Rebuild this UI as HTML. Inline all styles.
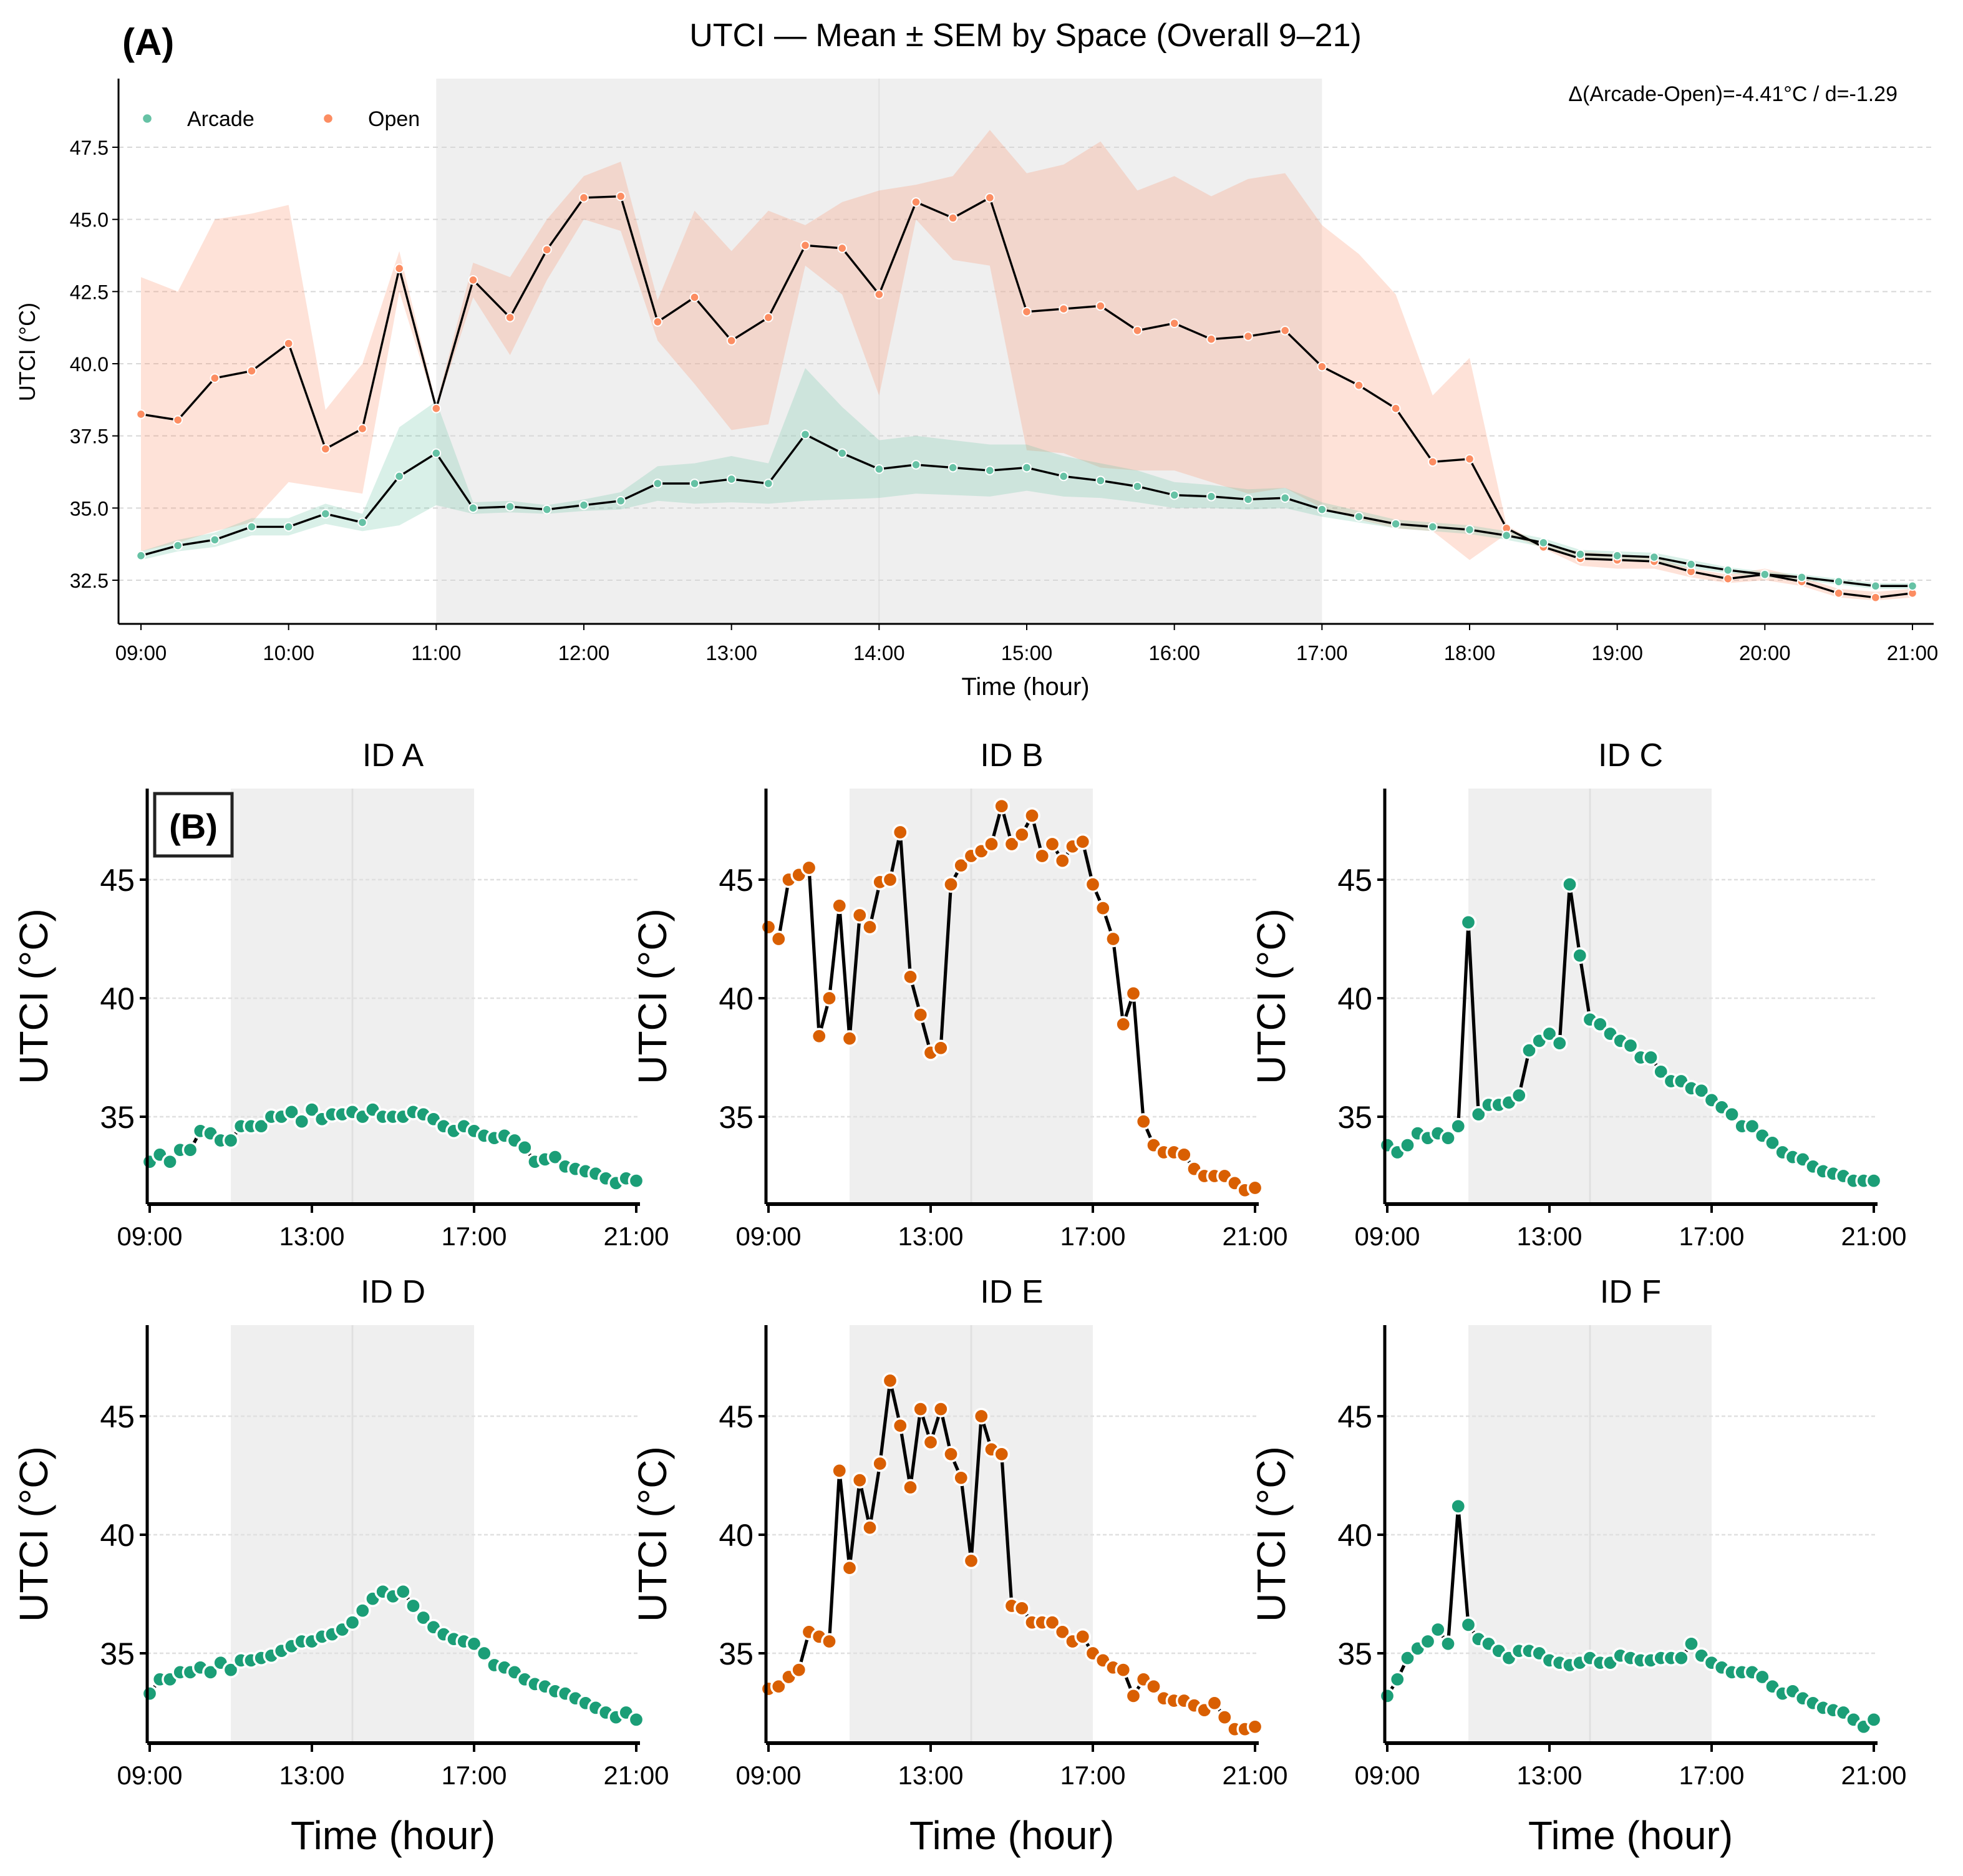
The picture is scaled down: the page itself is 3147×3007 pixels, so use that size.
<!DOCTYPE html>
<html><head><meta charset="utf-8"><style>
html,body{margin:0;padding:0;background:#fff}
svg{display:block}
text{font-family:"Liberation Sans","Noto Sans CJK SC",sans-serif}
</style></head><body>
<svg id="fig" xmlns="http://www.w3.org/2000/svg" width="3147" height="3007" viewBox="0 0 1573.5 1503.5">
<rect width="1573.5" height="1503.5" fill="#fff"/>
</svg>
<script>
const hours = [];
for (let i = 0; i < 49; i++) hours.push(9 + i * 0.25);
const openMean = [38.25,38.05,39.5,39.75,40.7,37.05,37.75,43.3,38.45,42.9,41.6,43.95,45.75,45.8,41.45,42.3,40.8,41.6,44.1,44.0,42.4,45.6,45.05,45.75,41.8,41.9,42.0,41.15,41.4,40.85,40.95,41.15,39.9,39.25,38.45,36.6,36.7,34.3,33.65,33.25,33.2,33.15,32.8,32.55,32.7,32.45,32.05,31.9,32.05];
const openUpper = [43.0,42.5,45.0,45.2,45.5,38.4,40.0,43.9,38.6,43.5,43.0,45.0,46.5,47.0,42.2,45.3,43.9,45.3,44.8,45.6,46.0,46.2,46.5,48.1,46.6,46.9,47.7,46.0,46.5,45.8,46.4,46.6,44.8,43.8,42.4,38.9,40.2,34.4,33.7,33.5,33.4,33.3,32.9,32.7,32.9,32.6,32.2,32.1,32.2];
const openLower = [33.5,33.8,34.2,34.5,35.9,35.7,35.5,42.5,38.4,42.3,40.3,42.9,45.0,44.6,40.8,39.3,37.7,37.9,43.4,42.4,38.9,45.0,43.6,43.4,37.0,36.9,36.4,36.3,36.3,35.9,35.5,35.7,35.0,34.6,34.3,34.2,33.2,34.1,33.6,33.0,32.9,32.9,32.6,32.4,32.5,32.3,31.9,31.8,31.9];
const arcMean = [33.35,33.7,33.9,34.35,34.35,34.8,34.5,36.1,36.9,35.0,35.05,34.95,35.1,35.25,35.85,35.85,36.0,35.85,37.55,36.9,36.35,36.5,36.4,36.3,36.4,36.1,35.95,35.75,35.45,35.4,35.3,35.35,34.95,34.7,34.45,34.35,34.25,34.05,33.8,33.4,33.35,33.3,33.05,32.85,32.7,32.6,32.45,32.3,32.3];
const arcSem = [0.15,0.2,0.25,0.3,0.3,0.35,0.3,1.7,1.8,0.2,0.2,0.15,0.2,0.3,0.6,0.7,0.8,0.7,2.3,1.6,1.0,1.0,0.95,0.9,0.8,0.7,0.6,0.55,0.45,0.4,0.35,0.35,0.25,0.2,0.15,0.15,0.15,0.15,0.15,0.15,0.15,0.15,0.15,0.1,0.1,0.1,0.1,0.1,0.1];
const topYTicks = [32.5,35.0,37.5,40.0,42.5,45.0,47.5];
const topXTicks = [9,10,11,12,13,14,15,16,17,18,19,20,21];
const idNames = ["ID A","ID B","ID C","ID D","ID E","ID F"];
const idA = [33.1,33.4,33.1,33.6,33.6,34.4,34.3,34.0,34.0,34.6,34.6,34.6,35.0,35.0,35.2,34.8,35.3,34.9,35.1,35.1,35.2,35.0,35.3,35.0,35.0,35.0,35.2,35.1,34.9,34.6,34.4,34.6,34.4,34.2,34.1,34.2,34.0,33.7,33.1,33.2,33.3,32.9,32.8,32.7,32.6,32.4,32.2,32.4,32.3];
const idB = [43.0,42.5,45.0,45.2,45.5,38.4,40.0,43.9,38.3,43.5,43.0,44.9,45.0,47.0,40.9,39.3,37.7,37.9,44.8,45.6,46.0,46.2,46.5,48.1,46.5,46.9,47.7,46.0,46.5,45.8,46.4,46.6,44.8,43.8,42.5,38.9,40.2,34.8,33.8,33.5,33.5,33.4,32.8,32.5,32.5,32.5,32.2,31.9,32.0];
const idC = [33.8,33.5,33.8,34.3,34.1,34.3,34.1,34.6,43.2,35.1,35.5,35.5,35.6,35.9,37.8,38.2,38.5,38.1,44.8,41.8,39.1,38.9,38.5,38.2,38.0,37.5,37.5,36.9,36.5,36.5,36.2,36.1,35.7,35.4,35.1,34.6,34.6,34.2,33.9,33.5,33.3,33.2,32.9,32.7,32.6,32.5,32.3,32.3,32.3];
const idD = [33.3,33.9,33.9,34.2,34.2,34.4,34.2,34.6,34.3,34.7,34.7,34.8,34.9,35.1,35.3,35.5,35.5,35.7,35.8,36.0,36.3,36.8,37.3,37.6,37.4,37.6,37.0,36.5,36.1,35.8,35.6,35.5,35.4,35.0,34.5,34.4,34.2,33.9,33.7,33.6,33.4,33.3,33.1,32.9,32.7,32.5,32.3,32.5,32.2];
const idE = [33.5,33.6,34.0,34.3,35.9,35.7,35.5,42.7,38.6,42.3,40.3,43.0,46.5,44.6,42.0,45.3,43.9,45.3,43.4,42.4,38.9,45.0,43.6,43.4,37.0,36.9,36.3,36.3,36.3,35.9,35.5,35.7,35.0,34.7,34.4,34.3,33.2,33.9,33.6,33.1,33.0,33.0,32.8,32.6,32.9,32.3,31.8,31.8,31.9];
const idF = [33.2,33.9,34.8,35.2,35.5,36.0,35.4,41.2,36.2,35.6,35.4,35.1,34.8,35.1,35.1,35.0,34.7,34.6,34.5,34.6,34.8,34.6,34.6,34.9,34.8,34.7,34.7,34.8,34.8,34.8,35.4,34.9,34.6,34.4,34.2,34.2,34.2,34.0,33.6,33.3,33.4,33.1,32.9,32.7,32.6,32.5,32.2,31.9,32.2];
const idSpace = ["Arcade","Open","Arcade","Arcade","Open","Arcade"];
const subYTicks = [35,40,45];
const subXTicks = [9,13,17,21];

const NS = "http://www.w3.org/2000/svg";
const svg = document.getElementById("fig");
function mk(tag, attrs, parent, txt) {
  const e = document.createElementNS(NS, tag);
  for (const k in attrs) e.setAttribute(k, attrs[k]);
  if (txt !== undefined) e.textContent = txt;
  (parent || svg).appendChild(e);
  return e;
}
function hh(h){return String(h).padStart(2,"0")+":00";}

// ---------- Panel A ----------
const A = {l:95, r:1550, t:63, b:500};
const ax = h => 113 + (h - 9) * (1533 - 113) / 12;
const ay = v => 465 - (v - 32.5) * (465 - 118) / 15;
const gA = mk("g", {});


let t = mk("text", {x:98, y:44, "font-size":30, "font-weight":"bold"}, gA, "(A)");
 
t = mk("text", {x:822, y:37, "font-size":26, "text-anchor":"middle"}, gA, "UTCI — Mean ± SEM by Space (Overall 9–21)");
 
let r = mk("rect", {x:ax(11), y:A.t, width:ax(17)-ax(11), height:A.b-A.t, fill:"#efefef"}, gA);
 
mk("line", {x1:ax(14), x2:ax(14), y1:A.t, y2:A.b, stroke:"#e2e2e2", "stroke-width":1}, gA);
topYTicks.forEach(v => {
  const l = mk("line", {x1:A.l, x2:A.r, y1:ay(v), y2:ay(v), stroke:"#d8d8d8", "stroke-width":1, "stroke-dasharray":"4,3"}, gA);
   
  mk("line", {x1:A.l-5, x2:A.l, y1:ay(v), y2:ay(v), stroke:"#000", "stroke-width":1}, gA);
  const tt = mk("text", {x:A.l-8, y:ay(v)+6, "font-size":16, "text-anchor":"end"}, gA, v.toFixed(1));
   
});
topXTicks.forEach(h => {
  mk("line", {x1:ax(h), x2:ax(h), y1:A.b, y2:A.b+5, stroke:"#000", "stroke-width":1}, gA);
  const tt = mk("text", {x:ax(h), y:529, "font-size":16.5, "text-anchor":"middle"}, gA, hh(h));
   
});
function band(up, lo, fill, name) {
  let d = "M" + hours.map((h,i)=>ax(h)+","+ay(up[i])).join("L");
  d += "L" + hours.map((h,i)=>[ax(h),ay(lo[i])]).reverse().map(p=>p.join(",")).join("L") + "Z";
  const p = mk("path", {d:d, fill:fill, "fill-opacity":0.25}, gA);
   
}
band(openUpper, openLower, "#fc8d62", "open-sem-band");
band(arcMean.map((m,i)=>m+arcSem[i]), arcMean.map((m,i)=>m-arcSem[i]), "#66c2a5", "arcade-sem-band");
function series(vals, color, name, X, Y, rad, sw, g) {
  const pl = mk("polyline", {points:hours.map((h,i)=>X(h)+","+Y(vals[i])).join(" "), fill:"none", stroke:"#000", "stroke-width":sw, "stroke-linejoin":"round"}, g);
   
  hours.forEach((h,i) => {
    const c = mk("circle", {cx:X(h), cy:Y(vals[i]), r:rad, fill:color, stroke:"#fff", "stroke-width":rad*0.3}, g);
     
  });
}
series(openMean, "#fc8d62", "open-mean", ax, ay, 3.4, 1.7, gA);
series(arcMean, "#66c2a5", "arcade-mean", ax, ay, 3.4, 1.7, gA);
mk("line", {x1:A.l, x2:A.l, y1:A.t, y2:A.b, stroke:"#000", "stroke-width":1.5}, gA);
mk("line", {x1:A.l, x2:A.r, y1:A.b, y2:A.b, stroke:"#000", "stroke-width":1.5}, gA);
t = mk("text", {x:28, y:282, "font-size":18, "text-anchor":"middle", transform:"rotate(-90 28 282)"}, gA, "UTCI (°C)");
 
t = mk("text", {x:822, y:557, "font-size":20, "text-anchor":"middle"}, gA, "Time (hour)");
 
t = mk("text", {x:1521, y:81, "font-size":17, "text-anchor":"end"}, gA, "Δ(Arcade-Open)=-4.41°C / d=-1.29");
 
[[118,150,"#66c2a5","Arcade"],[263,295,"#fc8d62","Open"]].forEach(le => {
  const g = mk("g", {}, gA);
   
  mk("circle", {cx:le[0], cy:95, r:3.4, fill:le[2]}, g);
  mk("text", {x:le[1], y:101, "font-size":17}, g, le[3]);
});

// ---------- Panel B ----------
const idData = [idA, idB, idC, idD, idE, idF];
const colX = [120, 616, 1112];
const rowT = [[632,965,705], [1062,1397,1135]];
idData.forEach((vals, k) => {
  const col = k % 3, row = Math.floor(k / 3);
  const x0 = colX[col], top = rowT[row][0], bot = rowT[row][1], y45 = rowT[row][2];
  const left = x0 - 2, right = x0 + 393;
  const X = h => x0 + (h - 9) * 390 / 12;
  const Y = v => y45 + (45 - v) * 19;
  const g = mk("g", {});
  
  
  mk("rect", {x:X(11), y:top, width:X(17)-X(11), height:bot-top, fill:"#efefef"}, g);
  mk("line", {x1:X(14), x2:X(14), y1:top, y2:bot, stroke:"#e0e0e0", "stroke-width":1.5}, g);
  subYTicks.forEach(v => {
    mk("line", {x1:left, x2:right, y1:Y(v), y2:Y(v), stroke:"#e0e0e0", "stroke-width":1.2, "stroke-dasharray":"3,2"}, g);
    mk("line", {x1:left-6, x2:left, y1:Y(v), y2:Y(v), stroke:"#000", "stroke-width":2}, g);
    const tt = mk("text", {x:left-10, y:Y(v)+9, "font-size":25, "text-anchor":"end"}, g, String(v));
     
  });
  subXTicks.forEach(h => {
    mk("line", {x1:X(h), x2:X(h), y1:bot, y2:bot+7, stroke:"#000", "stroke-width":2}, g);
    const tt = mk("text", {x:X(h), y:bot+33, "font-size":21, "text-anchor":"middle"}, g, hh(h));
     
  });
  const color = idSpace[k] === "Open" ? "#d95f02" : "#1b9e77";
  series(vals, color, idNames[k].toLowerCase().replace(' ', '-'), X, Y, 5.8, 2.6, g);
  mk("line", {x1:left, x2:left, y1:top, y2:bot, stroke:"#000", "stroke-width":2.5}, g);
  mk("line", {x1:left, x2:right, y1:bot, y2:bot, stroke:"#000", "stroke-width":3}, g);
  const tt = mk("text", {x:x0+195, y:top-18, "font-size":26, "text-anchor":"middle"}, g, idNames[k]);
   
  const ycx = left - 80, ycy = (top + bot) / 2;
  const yl = mk("text", {x:ycx, y:ycy, "font-size":32, "text-anchor":"middle", transform:`rotate(-90 ${ycx} ${ycy})`}, g, "UTCI (°C)");
   
  if (row === 1) {
    const xl = mk("text", {x:x0+195, y:1482, "font-size":32, "text-anchor":"middle"}, g, "Time (hour)");
     
  }
  if (k === 0) {
    const b = mk("rect", {x:124, y:636, width:62, height:50, fill:"#fff", stroke:"#222", "stroke-width":2.5}, g);
     
    const bt = mk("text", {x:155, y:672, "font-size":28, "font-weight":"bold", "text-anchor":"middle"}, g, "(B)");
     
  }
});
</script>
</body></html>
